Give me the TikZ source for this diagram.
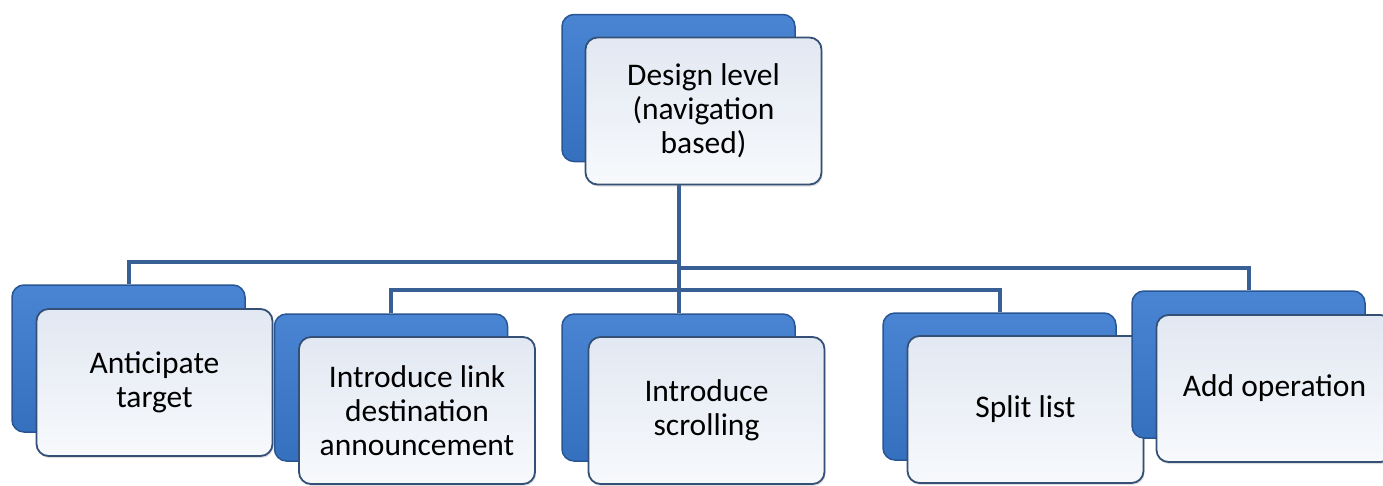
\documentclass[tikz,border=0pt]{standalone}
\usepackage{fontspec}
\setmainfont{Carlito}
\usetikzlibrary{positioning,calc,backgrounds,shadows}
\definecolor{boxblue}{RGB}{58,122,208}
\definecolor{boxedge}{RGB}{40,86,148}
\definecolor{facetop}{RGB}{226,232,242}
\definecolor{facebot}{RGB}{247,249,252}
\definecolor{faceedge}{RGB}{52,80,118}
\definecolor{linkln}{RGB}{56,96,148}

\begin{document}
\begin{tikzpicture}[x=1pt,y=-1pt,
  font=\fontsize{31.5}{34}\selectfont,
  backbox/.style={draw=boxedge,line width=1.5pt,top color=boxblue!92!white,bottom color=boxblue!92!black,rounded corners=12pt,minimum width=233pt,minimum height=147pt,inner sep=0pt},
  facebox/.style={draw=faceedge,line width=1.8pt,top color=facetop,bottom color=facebot,rounded corners=12pt,minimum width=236pt,minimum height=147pt,align=center,inner sep=2pt,drop shadow={opacity=0.25,shadow xshift=1pt,shadow yshift=-2pt}},
  conn/.style={linkln,line width=4pt},
]
\useasboundingbox (0,0) rectangle (1383,485);
% ---- top node ----
\node[backbox] (designB) at (678.5,88) {};
\node[facebox] (design) at ($(designB)+(25,23)$) {Design level\\(navigation\\based)};
% ---- second row ----
\node[backbox] (anticipateB) at (128.5,358.5) {};
\node[facebox] (anticipate) at ($(anticipateB)+(26,24)$) {Anticipate\\target};
\node[backbox] (linkB) at (391,387.5) {};
\node[facebox] (link) at ($(linkB)+(26,23)$) {Introduce link\\destination\\announcement};
\node[backbox] (scrollB) at (678.5,387.5) {};
\node[facebox] (scroll) at ($(scrollB)+(28,23)$) {Introduce\\scrolling};
\node[backbox] (splitB) at (999.5,386.5) {};
\node[facebox] (split) at ($(splitB)+(26,23)$) {Split list};
\node[backbox] (addopB) at (1248.5,364.5) {};
\node[facebox] (addop) at ($(addopB)+(26,24)$) {Add operation};
% ---- connectors (behind the boxes) ----
\coordinate (busA) at (0,262);
\coordinate (busB) at (0,268);
\coordinate (busC) at (0,290);
\begin{scope}[on background layer]
\draw[conn] (designB.south) -- (scrollB.north);
\draw[conn] (designB.south |- busA) -| (anticipateB.north);
\draw[conn] (designB.south |- busB) -| (addopB.north);
\draw[conn] (linkB.north) |- (splitB.north |- busC) -- (splitB.north);
\end{scope}
\end{tikzpicture}
\end{document}
